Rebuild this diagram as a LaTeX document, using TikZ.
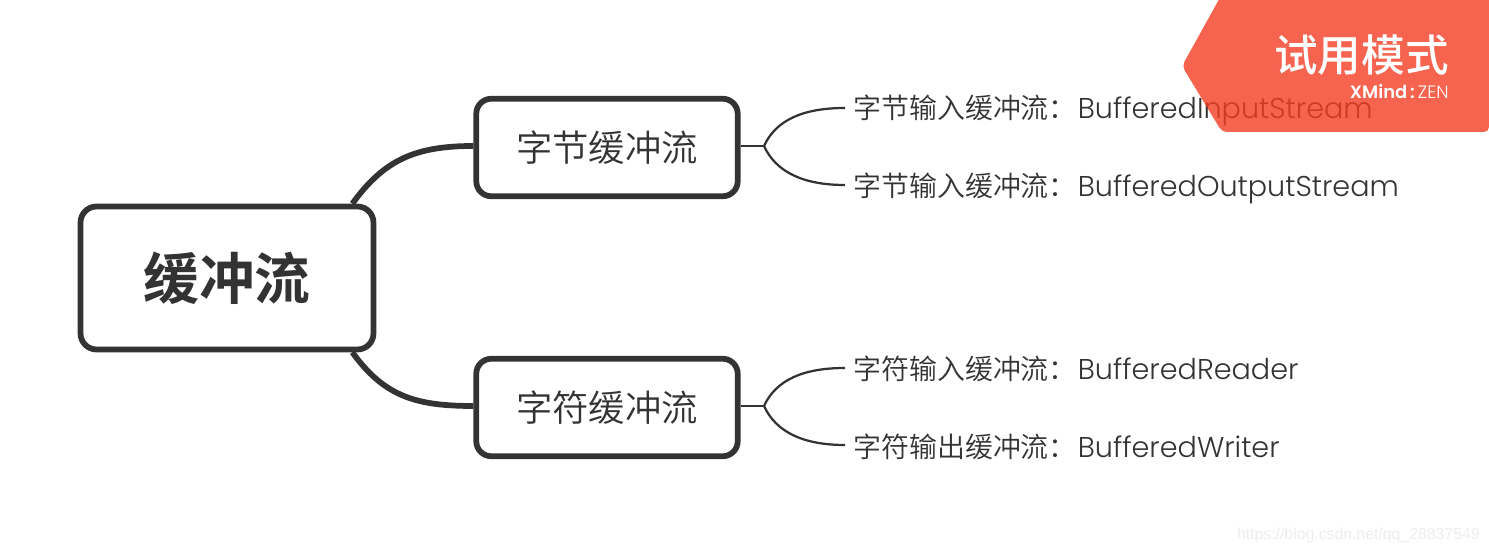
\documentclass[tikz,border=0pt]{standalone}
\usepackage{xcolor}
\usepackage{fontspec}
\usetikzlibrary{calc,positioning}
\setmainfont{Poppins}[UprightFont=* Light,BoldFont=* SemiBold]
\newfontfamily\cjk{Noto Sans CJK SC}[UprightFont=* DemiLight,BoldFont=* Bold]
\newfontfamily\cjkmid{Noto Sans CJK SC}[UprightFont=* Medium]
\newfontfamily\markfont{Liberation Sans}
\definecolor{inkgray}{HTML}{333333}
\definecolor{badgered}{HTML}{F43D23}
\tikzset{
  rootbox/.style={draw=inkgray,line width=0.115cm,rounded corners=0.32cm,fill=white,
    minimum width=5.86cm,minimum height=2.86cm,text=inkgray,inner sep=0pt},
  subbox/.style={draw=inkgray,line width=0.115cm,rounded corners=0.3cm,fill=white,
    minimum width=5.23cm,minimum height=1.95cm,text=inkgray,inner sep=0pt,
    font=\cjk\fontsize{20.7}{24}\selectfont},
  leaf/.style={anchor=west,text=inkgray,inner sep=0pt,
    font=\fontsize{16.3}{19}\selectfont},
  thick link/.style={draw=inkgray,line width=0.115cm},
  thin link/.style={draw=inkgray,line width=0.045cm}
}
\newcommand{\leaftext}[2]{{\cjk\fontsize{15.9}{19}\selectfont #1}\hspace{0.02cm}#2}
\begin{document}
\begin{tikzpicture}[x=0.02cm,y=-0.02cm]
    \useasboundingbox (0,0) rectangle (1489,553);
    \node[rootbox] (root) at (227,278) {\cjk\bfseries\fontsize{31.7}{38}\selectfont 缓冲流};
    \node[subbox] (bytes) at (607,147.5) {字节缓冲流};
    \node[subbox] (chars) at (607,407.5) {字符缓冲流};

    \coordinate (forka) at (764,146);
    \coordinate (forkb) at (764,406);
    \coordinate (enda) at (845,108);
    \coordinate (endb) at (845,185);
    \coordinate (endc) at (845,368);
    \coordinate (endd) at (845,445);

    \node[leaf] (bytein) at (853,110) {\leaftext{字节输入缓冲流：}{BufferedInputStream}};
    \node[leaf] (byteout) at (853,188) {\leaftext{字节输入缓冲流：}{BufferedOutputStream}};
    \node[leaf] (charin) at (853,368.5) {\leaftext{字符输入缓冲流：}{BufferedReader}};
    \node[leaf] (charout) at (853,446.5) {\leaftext{字符输出缓冲流：}{BufferedWriter}};

    \draw[thick link] ($(root.north east)+(-24,0)$) .. controls +(32,-44) and +(-58,0) .. (bytes.west |- forka);
    \draw[thick link] ($(root.south east)+(-24,0)$) .. controls +(32,44) and +(-58,0) .. (chars.west |- forkb);

    \draw[thin link] (bytes.east |- forka) -- (forka);
    \draw[thin link] (forka) .. controls +(12,-26) and +(-42,0) .. (enda);
    \draw[thin link] (forka) .. controls +(12,26) and +(-42,0) .. (endb);
    \draw[thin link] (chars.east |- forkb) -- (forkb);
    \draw[thin link] (forkb) .. controls +(12,-26) and +(-42,0) .. (endc);
    \draw[thin link] (forkb) .. controls +(12,26) and +(-42,0) .. (endd);

    % trial badge lies over the text
    \fill[badgered,opacity=0.8,rounded corners=0.1cm] (1222,-6) -- (1489,-6) -- (1489,132)
        -- (1222,132) -- (1182,66) -- cycle;
    \node[anchor=east,text=white,inner sep=0pt,font=\cjkmid\fontsize{24.8}{29}\selectfont] (trial) at (1449,55) {试用模式};
    \node[anchor=east,text=white,inner sep=0pt,font=\fontsize{10.2}{12}\selectfont] (brand) at (1449,92) {\textbf{XMind}\,\textbf{:}\,ZEN};

    \node[anchor=east,text=black!7,inner sep=0pt,font=\markfont\fontsize{9}{11}\selectfont] (mark) at (1480,535) {https://blog.csdn.net/qq\_28837549};
\end{tikzpicture}
\end{document}
